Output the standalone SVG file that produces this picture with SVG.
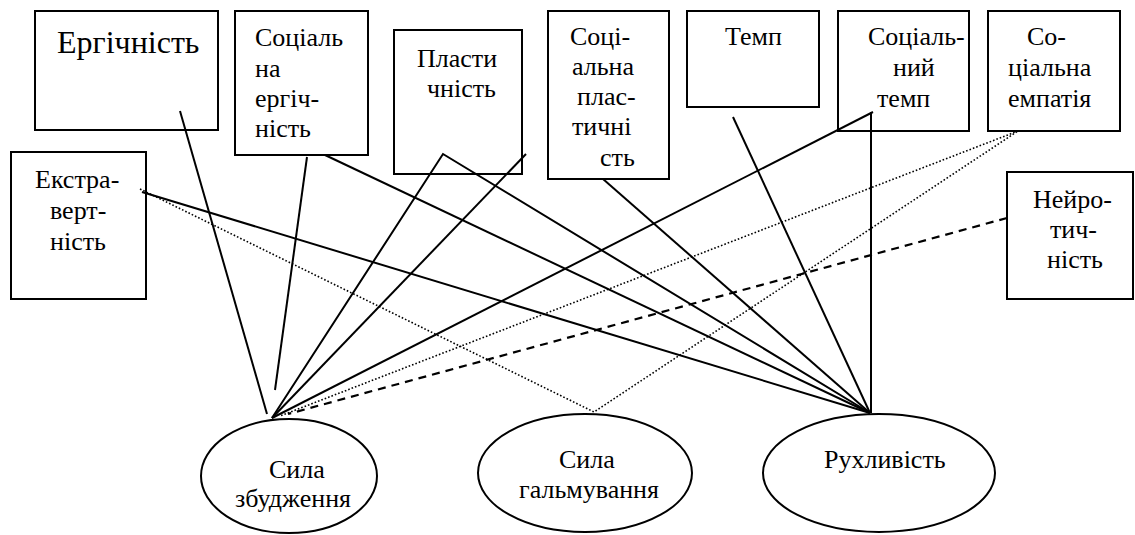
<svg xmlns="http://www.w3.org/2000/svg" width="1135" height="535" viewBox="0 0 1135 535">
<style>
.box{fill:#fff;stroke:#000;stroke-width:2}
.ell{fill:#fff;stroke:#000;stroke-width:2}
.s{stroke:#000;stroke-width:2;fill:none}
.d{stroke:#000;stroke-width:1.6;stroke-dasharray:1.6 2;fill:none}
.dash{stroke:#000;stroke-width:2.2;stroke-dasharray:8 6;fill:none}
</style>
<rect width="1135" height="535" fill="#fff"/>
<g font-family="'Liberation Serif', 'Liberation Sans', Arial, sans-serif" font-size="26" fill="#000">
<g id="n-ergichnist"><rect class="box" x="35" y="11" width="183" height="119"/><text font-size="32" x="57" y="53">Ергічність</text></g>
<g id="n-soc-ergichnist"><rect class="box" x="235" y="11" width="133" height="144"/><text x="255" y="46">Соціаль</text><text x="255" y="77">на</text><text x="255" y="107">ергіч-</text><text x="255" y="137">ність</text></g>
<g id="n-plastychnist"><rect class="box" x="394" y="30" width="128" height="144"/><text x="417" y="67">Пласти</text><text x="427" y="97">чність</text></g>
<g id="n-soc-plastychnist"><rect class="box" x="548" y="11" width="121" height="168"/><text x="570" y="45">Соці-</text><text x="572" y="75">альна</text><text x="577" y="105">плас-</text><text x="572" y="135">тичні</text><text x="600" y="166">сть</text></g>
<g id="n-temp"><rect class="box" x="687" y="11" width="132" height="96"/><text x="725" y="45">Темп</text></g>
<g id="n-soc-temp"><rect class="box" x="838" y="11" width="131" height="120"/><text x="868" y="45">Соціаль-</text><text x="893" y="76">ний</text><text x="877" y="107">темп</text></g>
<g id="n-soc-empatiia"><rect class="box" x="988" y="11" width="132" height="120"/><text x="1027" y="45">Со-</text><text x="1008" y="76">ціальна</text><text x="1008" y="107">емпатія</text></g>
<g id="n-ekstravertnist"><rect class="box" x="11" y="152" width="135" height="147"/><text x="35" y="188">Екстра-</text><text x="50" y="219">верт-</text><text x="50" y="250">ність</text></g>
<g id="n-neirotychnist"><rect class="box" x="1007" y="172" width="126" height="127"/><text x="1033" y="208">Нейро-</text><text x="1050" y="238">тич-</text><text x="1047" y="268">ність</text></g>
<g id="n-syla-zbudzhennia"><ellipse class="ell" cx="289" cy="476" rx="88" ry="57"/><text x="269" y="478">Сила</text><text x="235" y="507">збудження</text></g>
<g id="n-syla-halmuvannia"><ellipse class="ell" cx="585" cy="473" rx="107" ry="59"/><text x="559" y="468">Сила</text><text x="519" y="498">гальмування</text></g>
<g id="n-rukhlyvist"><ellipse class="ell" cx="879" cy="473" rx="116" ry="59"/><text x="824" y="468">Рухливість</text></g>
</g>
<g id="connectors">
<line class="s" x1="180" y1="111" x2="267" y2="414"/>
<line class="s" x1="307" y1="157" x2="275" y2="390"/>
<line class="s" x1="325" y1="155" x2="870" y2="413"/>
<polyline class="s" points="272,418 443,154 870,413"/>
<line class="s" x1="526" y1="154" x2="272" y2="418"/>
<line class="s" x1="603" y1="179" x2="870" y2="413"/>
<line class="s" x1="733" y1="117" x2="870" y2="413"/>
<line class="s" x1="873" y1="112" x2="272" y2="418"/>
<line class="s" x1="871" y1="112" x2="871" y2="413"/>
<line class="s" x1="142" y1="192" x2="870" y2="413"/>
<polyline class="d" points="140,189 594,412 1018,131"/>
<line class="d" x1="1018" y1="131" x2="280" y2="416"/>
<line class="dash" x1="1007" y1="218" x2="288" y2="414"/>
</g>
</svg>
